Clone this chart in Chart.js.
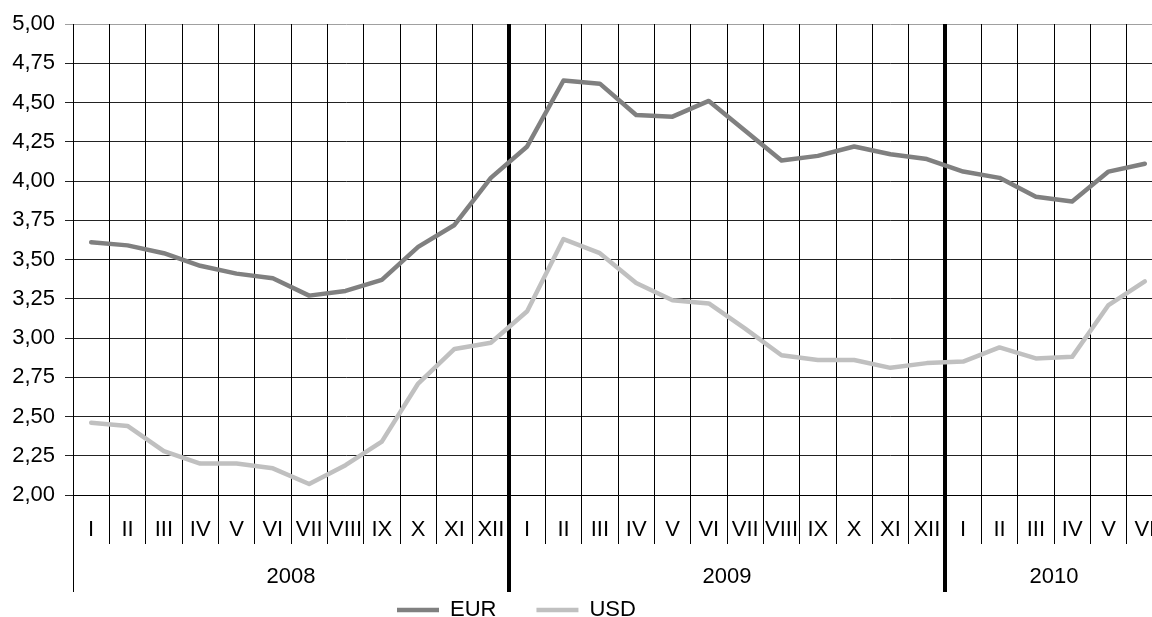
<!DOCTYPE html>
<html lang="pl">
<head>
<meta charset="utf-8">
<title>Kurs EUR i USD 2008-2010</title>
<script src="https://cdn.jsdelivr.net/npm/chart.js@4.4.1/dist/chart.umd.min.js"></script>
<style>
    html, body { margin: 0; padding: 0; background: #fff; overflow: hidden; }
    #wrap { width: 1166px; height: 617px; }
</style>
</head>
<body>
<div id="wrap"><canvas id="kursyChart"></canvas></div>
<script>
// miesiace (os X, poziom 1)
const miesiace = [
    'I', 'II', 'III', 'IV', 'V', 'VI', 'VII', 'VIII', 'IX', 'X', 'XI', 'XII',
    'I', 'II', 'III', 'IV', 'V', 'VI', 'VII', 'VIII', 'IX', 'X', 'XI', 'XII',
    'I', 'II', 'III', 'IV', 'V', 'VI'
];
// lata (os X, poziom 2) i ile miesiecy ma kazdy rok na wykresie
const lata = ['2008', '2009', '2010'];
const miesiaceWRoku = [12, 12, 6];

// kursy
const eur = [
    3.61, 3.59, 3.54, 3.46, 3.41, 3.38, 3.27, 3.30, 3.37, 3.58, 3.72, 4.02,
    4.22, 4.64, 4.62, 4.42, 4.41, 4.51, 4.32, 4.13, 4.16, 4.22, 4.17, 4.14,
    4.06, 4.02, 3.90, 3.87, 4.06, 4.11
];
const usd = [
    2.46, 2.44, 2.28, 2.20, 2.20, 2.17, 2.07, 2.19, 2.34, 2.71, 2.93, 2.97,
    3.17, 3.63, 3.54, 3.35, 3.24, 3.22, 3.06, 2.89, 2.86, 2.86, 2.81, 2.84,
    2.85, 2.94, 2.87, 2.88, 3.21, 3.36
];

// os Y
const yMin = 2;
const yMax = 5;
const yKrok = 0.25;

document.addEventListener('DOMContentLoaded', function() {
    const czcionka = { family: '"Liberation Sans", Arial, sans-serif', size: 22 };

    // granice lat (indeksy miesiecy) i pozycje podpisow lat
    const granice = [];
    const tickiLat = [];
    let start = 0;
    lata.forEach((rok, i) => {
        if (start > 0) granice.push(start);
        tickiLat.push({ value: start - 0.5, label: '', granica: true });
        tickiLat.push({ value: start - 0.5 + miesiaceWRoku[i] / 2, label: rok, granica: false });
        start += miesiaceWRoku[i];
    });
    tickiLat.push({ value: start - 0.5, label: '', granica: true });

    // przesuniecie legendy pod wykres (jak w oryginale)
    const ustawLegende = {
        id: 'ustawLegende',
        afterLayout(chart) {
            const lg = chart.legend;
            const pad = lg.options.labels.padding;
            lg.left = 397 - pad;
            lg.right = chart.width;
            lg.top = 599 - pad;
            lg.bottom = chart.height;
        }
    };

    const ctx = document.getElementById('kursyChart').getContext('2d');
    const kursyChart = new Chart(ctx, {
        type: 'line',
        data: {
            labels: miesiace,
            datasets: [{
                label: 'EUR',
                data: eur,
                borderColor: '#808080',
                backgroundColor: '#808080',
                borderWidth: 4.5,
                borderCapStyle: 'round',
                borderJoinStyle: 'round',
                pointRadius: 0,
                tension: 0,
                xAxisID: 'x',
                yAxisID: 'y'
            }, {
                label: 'USD',
                data: usd,
                borderColor: '#c0c0c0',
                backgroundColor: '#c0c0c0',
                borderWidth: 4.5,
                borderCapStyle: 'round',
                borderJoinStyle: 'round',
                pointRadius: 0,
                tension: 0,
                xAxisID: 'x',
                yAxisID: 'y'
            }]
        },
        options: {
            responsive: true,
            maintainAspectRatio: false,
            animation: false,
            events: [],
            layout: { padding: { top: 24, right: 3, left: 0, bottom: 0 } },
            plugins: {
                tooltip: { enabled: false },
                legend: {
                    position: 'bottom',
                    align: 'start',
                    maxHeight: 25,
                    labels: {
                        usePointStyle: true,
                        pointStyle: 'line',
                        pointStyleWidth: 42,
                        padding: 40,
                        color: '#000',
                        font: czcionka
                    }
                }
            },
            scales: {
                y: {
                    min: yMin,
                    max: yMax,
                    ticks: {
                        stepSize: yKrok,
                        color: '#000',
                        font: czcionka,
                        padding: 10,
                        callback: v => v.toFixed(2).replace('.', ',')
                    },
                    grid: {
                        color: c => (c.tick && c.tick.value === yMax) ? '#a0a0a0' : '#222',
                        tickLength: 8
                    },
                    border: { color: '#000' },
                    afterFit: s => { s.width = 73; }
                },
                x: {
                    type: 'category',
                    position: 'bottom',
                    offset: true,
                    ticks: {
                        color: '#000',
                        font: czcionka,
                        autoSkip: false,
                        maxRotation: 0,
                        minRotation: 0,
                        padding: -27
                    },
                    grid: {
                        offset: true,
                        color: '#000',
                        lineWidth: c => granice.includes(c.index) ? 4 : 1,
                        tickLength: 49
                    },
                    border: { color: '#000' },
                    afterFit: s => { s.height = 49; }
                },
                x2: {
                    type: 'linear',
                    position: 'bottom',
                    min: -0.5,
                    max: start - 0.5,
                    afterBuildTicks: s => { s.ticks = tickiLat.map(t => ({ value: t.value })); },
                    ticks: {
                        color: '#000',
                        font: czcionka,
                        maxRotation: 0,
                        padding: -28,
                        callback: (v, i) => tickiLat[i] ? tickiLat[i].label : ''
                    },
                    grid: {
                        drawOnChartArea: false,
                        tickLength: 48,
                        color: c => (tickiLat[c.index] && tickiLat[c.index].granica) ? '#000' : 'rgba(0,0,0,0)',
                        lineWidth: c => {
                            const t = tickiLat[c.index];
                            if (!t || !t.granica) return 0;
                            return (c.index === 0 || c.index === tickiLat.length - 1) ? 1 : 4;
                        }
                    },
                    border: { display: false },
                    afterFit: s => { s.height = 48; }
                }
            }
        },
        plugins: [ustawLegende]
    });
});
</script>
</body>
</html>
